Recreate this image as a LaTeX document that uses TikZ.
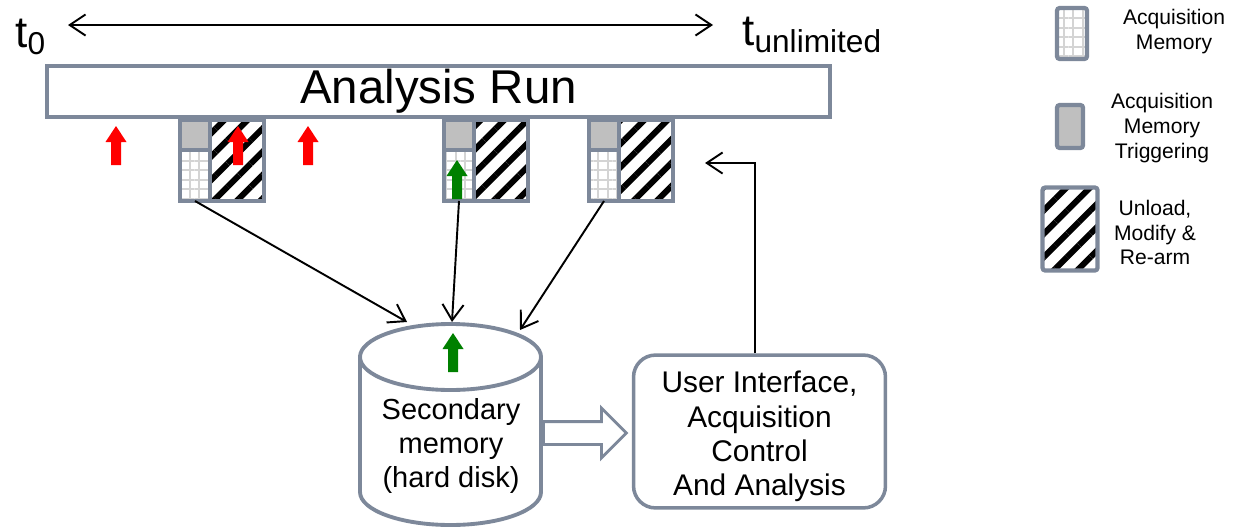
\documentclass[tikz,border=0pt]{standalone}
\usepackage{fontspec}
\setmainfont{Liberation Sans}
\usetikzlibrary{arrows.meta,shapes.arrows,patterns.meta}

\definecolor{frame}{RGB}{125,136,154}
\definecolor{triggray}{RGB}{191,191,191}
\definecolor{gridgray}{RGB}{212,212,212}
\definecolor{arrowgreen}{RGB}{0,128,0}

\tikzset{
  cell/.style={draw=frame, line width=2pt, inner sep=0pt, outer sep=0pt},
  trigcell/.style={cell, fill=triggray, minimum width=0.6cm, minimum height=0.6cm},
  memcell/.style={cell, preaction={fill=white},
    pattern={Hatch[angle=0,distance=0.19cm,line width=0.04cm]}, pattern color=gridgray,
    minimum width=0.6cm, minimum height=1.02cm},
  unlcell/.style={cell, preaction={fill=white},
    pattern={Lines[angle=45,distance=0.33cm,line width=0.12cm]}, pattern color=black,
    minimum width=1.08cm, minimum height=1.62cm},
  legcell/.style={line width=2.4pt, rounded corners=1.5pt},
  tlabel/.style={anchor=base west, inner sep=0pt, font=\fontsize{25}{30}\selectfont},
  runbox/.style={draw=frame, line width=1.8pt, fill=white, inner sep=0pt,
    minimum width=15.66cm, minimum height=1.02cm, font=\fontsize{27}{32}\selectfont},
  uibox/.style={draw=frame, line width=2pt, fill=white, rounded corners=0.44cm,
    minimum width=5.04cm, minimum height=3.02cm, align=center,
    font=\fontsize{17}{19.6}\selectfont},
  disktext/.style={align=center, inner sep=0pt, font=\fontsize{16.5}{19.4}\selectfont},
  legtext/.style={align=center, inner sep=0pt, font=\fontsize{12}{14.2}\selectfont},
  diskline/.style={draw=frame, fill=white, line width=2.2pt},
  pusharrow/.style={single arrow, draw=frame, fill=white, line width=1.6pt,
    minimum height=1.66cm, single arrow head extend=0.27cm, inner sep=0.2cm},
  flow/.style={-{Straight Barb[length=9pt,width=12pt]}, line width=1.1pt},
  span/.style={{Straight Barb[length=9pt,width=12pt]}-{Straight Barb[length=9pt,width=12pt]}, line width=1.1pt},
  uparrow/.pic={\fill[#1] (-5,0) -- (-5,-23) -- (-10.5,-23) -- (0,-39) -- (10.5,-23) -- (5,-23) -- (5,0) -- cycle;}
}

\begin{document}
\begin{tikzpicture}[x=0.02cm, y=-0.02cm]
\useasboundingbox (0,0) rectangle (1233,531);

% time line
\node[tlabel] (t0) at (15,47) {t\raisebox{-4.5pt}{\fontsize{18}{20}\selectfont 0}};
\node[tlabel] (tend) at (742,45) {t\raisebox{-4.5pt}{\fontsize{18}{20}\selectfont unlimited}};
\coordinate (tl) at (68,25);
\coordinate (tr) at (713,25);
\draw[span] (tl) -- (tr);

\node[runbox] (run) at (438.5,91.5) {Analysis Run};

% acquisition blocks
\foreach \i/\bx in {1/180,2/444,3/589}{
  \node[trigcell, anchor=north west] (trig\i) at (\bx,120) {};
  \node[memcell, anchor=north west] (mem\i) at (\bx,150) {};
  \node[unlcell, anchor=north west] (unl\i) at (\bx+30,120) {};
}

% trigger events
\foreach \x in {116,238,308}
  \pic at (\x,165) {uparrow=red};
\pic at (457,199) {uparrow=arrowgreen};

% secondary memory
\draw[diskline] (360,357) -- (360,492)
  arc[start angle=180, end angle=0, x radius=90.5, y radius=33] -- (541,357)
  arc[start angle=0, end angle=-180, x radius=90.5, y radius=33] -- cycle;
\draw[diskline, fill=none] (360,357) arc[start angle=180, end angle=0, x radius=90.5, y radius=33];
\node[disktext] (disk) at (451,446) {Secondary\\memory\\(hard disk)};
\pic at (453,372) {uparrow=arrowgreen};
\coordinate (dtop1) at (407,322);
\coordinate (dtop2) at (452,322);
\coordinate (dtop3) at (520,330);
\coordinate (dright) at (542,433);

\node[uibox] (ui) at (759.5,431.5) {\rule{0pt}{18pt}User Interface,\\Acquisition\\Control\\And Analysis};
\node[pusharrow, anchor=tail] (push) at (dright) {};

\draw[flow] (mem1.south) -- (dtop1);
\draw[flow] (mem2.south) -- (dtop2);
\draw[flow] (mem3.south) -- (dtop3);
\coordinate (fb) at (705,163);
\draw[flow] ([xshift=-0.09cm]ui.north) |- (fb);

% legend
\node[memcell, legcell] (legmem) at (1072,33.5) {};
\node[legtext] (legmemtxt) at (1174,31.5) {Acquisition\\Memory};
\node[trigcell, legcell, minimum width=0.52cm, minimum height=0.86cm] (legtrig) at (1070,126.5) {};
\node[legtext] (legtrigtxt) at (1162,128) {Acquisition\\Memory\\Triggering};
\node[unlcell, legcell, minimum width=1.1cm, minimum height=1.66cm] (legunl) at (1070,229) {};
\node[legtext] (legunltxt) at (1155,232.5) {Unload,\\Modify \&\\Re-arm};
\end{tikzpicture}
\end{document}
